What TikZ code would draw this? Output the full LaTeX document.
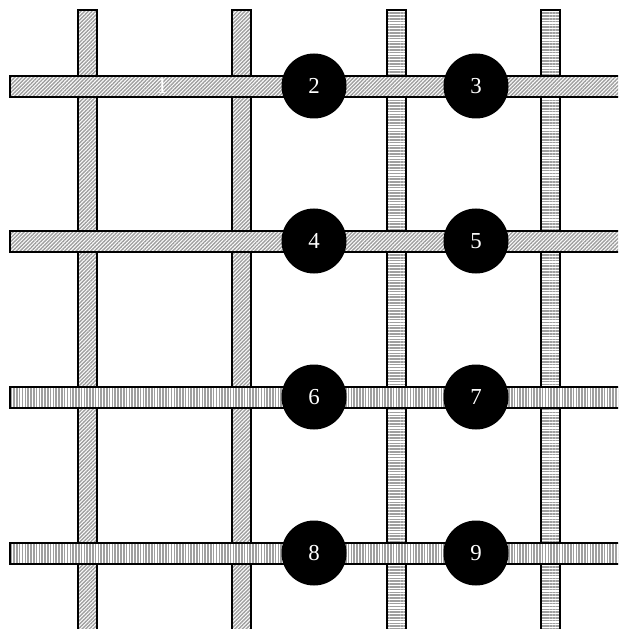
\documentclass[tikz,border=0pt]{standalone}
\usepackage{fontspec}
\setmainfont{Liberation Serif}
\usetikzlibrary{patterns.meta}

\begin{document}
\begin{tikzpicture}[
    x=0.2mm, y=-0.2mm,
    bar/.style={draw=black, line width=1.1pt, preaction={fill=white}, pattern color=gray!75},
    diagbar/.style={bar, pattern={Lines[angle=45, distance=1.5pt, line width=0.8pt]}},
    hlbar/.style={bar, pattern={Lines[angle=0, distance=1.6pt, line width=0.9pt]}},
    vlbar/.style={bar, pattern={Lines[angle=90, distance=1.6pt, line width=0.9pt]}},
    pad/.style={circle, fill=black, minimum size=13mm, inner sep=0pt, text=white, font=\fontsize{13}{15}\selectfont},
    lbl/.style={text=white, font=\fontsize{13}{15}\selectfont},
]

\clip (0,0) rectangle (618,629);

% Vertical bars
\foreach \x in {78,232} {
    \draw[diagbar] (\x,10) rectangle ++(19,640);
}
\foreach \x in {387,541} {
    \draw[hlbar] (\x,10) rectangle ++(19,640);
}

% Horizontal bars
\foreach \y in {76,231} {
    \draw[diagbar] (10,\y) rectangle ++(640,21);
}
\foreach \y in {387,543} {
    \draw[vlbar] (10,\y) rectangle ++(640,21);
}

% Pads
\node[lbl] (p1) at (162,86) {1};
\node[pad] (p2) at (314,86) {2};
\node[pad] (p3) at (476,86) {3};
\node[pad] (p4) at (314,241) {4};
\node[pad] (p5) at (476,241) {5};
\node[pad] (p6) at (314,397) {6};
\node[pad] (p7) at (476,397) {7};
\node[pad] (p8) at (314,553) {8};
\node[pad] (p9) at (476,553) {9};

\end{tikzpicture}
\end{document}
